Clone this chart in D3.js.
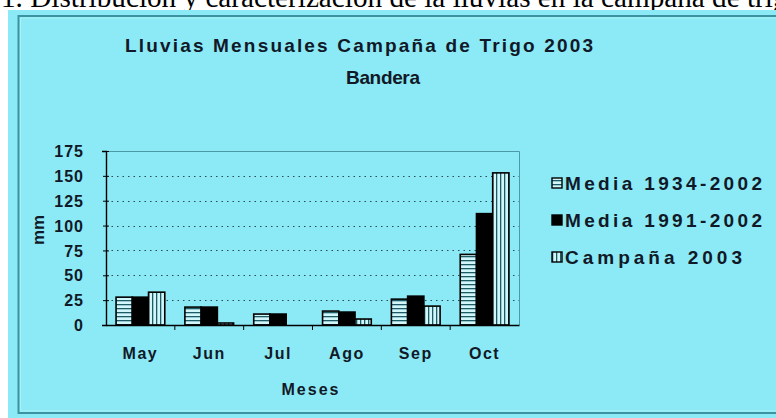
<!DOCTYPE html>
<html><head><meta charset="utf-8">
<script src="https://cdn.jsdelivr.net/npm/d3@7"></script>
<style>html,body{margin:0;padding:0;background:#fff;}svg{display:block;}</style>
</head><body>
<svg id="c" width="776" height="418"></svg>
<script>
const months = ["May", "Jun", "Jul", "Ago", "Sep", "Oct"];
const media1934 = [28, 18, 11, 14, 26, 71];
const media1991 = [28, 18, 11, 13, 29, 112];
const campana2003 = [33, 2, 0, 6, 19, 153];
const seriesNames = ["Media 1934-2002", "Media 1991-2002", "Campaña 2003"];
const yTicks = [0, 25, 50, 75, 100, 125, 150, 175];
const titleText = "Lluvias Mensuales Campaña de Trigo 2003";
const subtitleText = "Bandera";
const xTitle = "Meses";
const yTitle = "mm";
const captionText = "1. Distribución y caracterización de la lluvias en la campaña de trigo";

const series = [media1934, media1991, campana2003];
const fills = ["url(#hstripe)", "#000", "url(#vstripe)"];
const FONT = "'Liberation Sans', Arial, sans-serif";
const INK = "#111827";

const svg = d3.select("#c");
const defs = svg.append("defs");
const hp = defs.append("pattern").attr("id", "hstripe").attr("patternUnits", "userSpaceOnUse")
  .attr("width", 8).attr("height", 4);
hp.append("rect").attr("width", 8).attr("height", 4).attr("fill", "#d2f7fb");
hp.append("rect").attr("y", 0).attr("width", 8).attr("height", 1.3).attr("fill", "#1d5c66");
const vp = defs.append("pattern").attr("id", "vstripe").attr("patternUnits", "userSpaceOnUse")
  .attr("width", 4).attr("height", 8);
vp.append("rect").attr("width", 4).attr("height", 8).attr("fill", "#d2f7fb");
vp.append("rect").attr("x", 0).attr("width", 1.3).attr("height", 8).attr("fill", "#1d5c66");

// caption (cut off at the top, as in the source page)
const cap = svg.append("text").attr("x", 1).attr("y", 7)
  .attr("font-family", "'Liberation Serif', 'Times New Roman', serif")
  .attr("font-size", 20).attr("fill", "#000");
const pre = captionText.slice(0, captionText.length - 5); // up to "de "
cap.text(pre);
const preLen = cap.node().getComputedTextLength();
const fs = 20 * 739 / preLen;
cap.attr("font-size", fs).text(captionText);

// panel
svg.append("rect").attr("x", 8).attr("y", 10).attr("width", 776 - 8).attr("height", 418 - 10).attr("fill", "#8beaf5");
svg.append("rect").attr("x", 18.5).attr("y", 16).attr("width", 800).attr("height", 397)
  .attr("fill", "none").attr("stroke", "#3b93a1").attr("stroke-width", 2);
svg.append("rect").attr("x", 20.5).attr("y", 18).attr("width", 800).attr("height", 393)
  .attr("fill", "none").attr("stroke", "#a8f2f8").attr("stroke-width", 1);

const L = 106, R = 519, T = 151, B = 325;
const x = d3.scaleBand().domain(months).range([L, R]).paddingInner(0).paddingOuter(0);
const xs = d3.scaleBand().domain([0, 1, 2]).range([0, x.bandwidth()]).paddingInner(0).paddingOuter(0.62);
const y = d3.scaleLinear().domain([0, 175]).range([B, T]);

// titles
svg.append("text").attr("x", 125).attr("y", 52).attr("font-family", FONT).attr("font-weight", "bold")
  .attr("font-size", 19).attr("fill", INK).attr("textLength", 468).attr("lengthAdjust", "spacing").text(titleText);
svg.append("text").attr("x", 346).attr("y", 84).attr("font-family", FONT).attr("font-weight", "bold")
  .attr("font-size", 19).attr("fill", INK).attr("textLength", 74).attr("lengthAdjust", "spacing").text(subtitleText);

// plot frame (top/right)
svg.append("path").attr("d", `M${L},${T + 0.5}H${R + 0.5}V${B}`).attr("fill", "none")
  .attr("stroke", "#4d99a6").attr("stroke-width", 1);

// gridlines
svg.append("g").selectAll("line").data(yTicks.filter(t => t > 0 && t < 175)).join("line")
  .attr("x1", L).attr("x2", R).attr("y1", d => Math.round(y(d)) + 0.5).attr("y2", d => Math.round(y(d)) + 0.5)
  .attr("stroke", "#2b4a55").attr("stroke-width", 1).attr("stroke-dasharray", "1.5,4");

// bars
const g = svg.append("g");
series.forEach((vals, si) => {
  g.append("g").selectAll("rect").data(months).join("rect")
    .attr("x", m => x(m) + xs(si)).attr("width", xs.bandwidth())
    .attr("y", (m, i) => y(vals[i])).attr("height", (m, i) => B - y(vals[i]))
    .attr("fill", fills[si]).attr("stroke", "#000").attr("stroke-width", (m, i) => vals[i] > 0 ? 1.6 : 0);
});

// axes
const yAxis = d3.axisLeft(y).tickValues(yTicks).tickSize(4).tickPadding(18);
const ya = svg.append("g").attr("transform", `translate(${L},0)`).call(yAxis);
ya.select(".domain").attr("stroke", "#000").attr("stroke-width", 1.4);
ya.selectAll(".tick line").attr("x2", 3).attr("x1", -3).attr("stroke", "#000");
ya.selectAll(".tick text").attr("font-family", FONT).attr("font-weight", "bold").attr("font-size", 16)
  .attr("letter-spacing", 1).attr("fill", INK).attr("dy", "0.35em");

const xAxis = d3.axisBottom(x).tickSize(0).tickPadding(23);
const xa = svg.append("g").attr("transform", `translate(0,${B})`).call(xAxis);
xa.select(".domain").attr("stroke", "#000").attr("stroke-width", 1.4);
xa.selectAll(".tick text").attr("font-family", FONT).attr("font-weight", "bold").attr("font-size", 16)
  .attr("letter-spacing", 1.5).attr("fill", INK);
// category separators
svg.append("g").selectAll("line").data(months.slice(1)).join("line")
  .attr("x1", m => x(m)).attr("x2", m => x(m)).attr("y1", B).attr("y2", B + 5)
  .attr("stroke", "#000").attr("stroke-width", 1);

svg.append("text").attr("x", 311).attr("y", 395).attr("text-anchor", "middle").attr("font-family", FONT)
  .attr("font-weight", "bold").attr("font-size", 16).attr("letter-spacing", 2).attr("fill", INK).text(xTitle);
svg.append("text").attr("transform", "translate(44,230) rotate(-90)").attr("text-anchor", "middle")
  .attr("font-family", FONT).attr("font-weight", "bold").attr("font-size", 17).attr("fill", INK).text(yTitle);

// legend
const legY = [183, 220, 257];
const legW = [199, 199, 179];
const lg = svg.append("g");
seriesNames.forEach((name, i) => {
  lg.append("rect").attr("x", 552).attr("y", legY[i] - 5).attr("width", 10).attr("height", 10)
    .attr("fill", fills[i]).attr("stroke", "#000").attr("stroke-width", 1.4);
  lg.append("text").attr("x", 565).attr("y", legY[i] + 7).attr("font-family", FONT).attr("font-weight", "bold")
    .attr("font-size", 19).attr("fill", INK).attr("textLength", legW[i] - 2).attr("lengthAdjust", "spacing").text(name);
});
</script>
</body></html>
